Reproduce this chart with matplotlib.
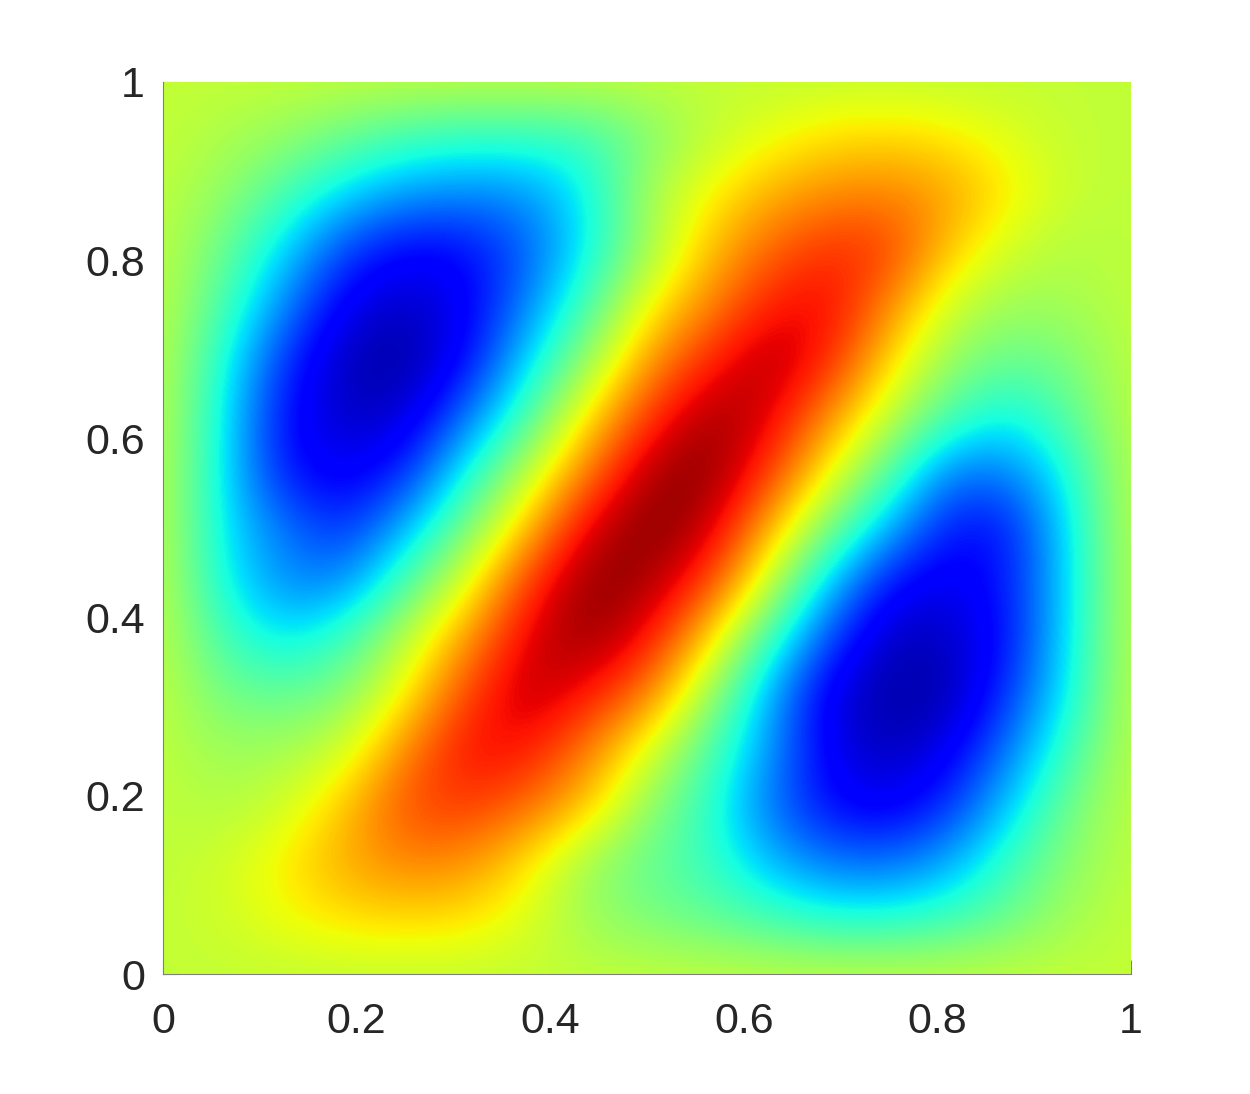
import numpy as np
import matplotlib
matplotlib.use('Agg')
import matplotlib.pyplot as plt

tick_vals = [0, 0.2, 0.4, 0.6, 0.8, 1]
tick_labels = ['0', '0.2', '0.4', '0.6', '0.8', '1']

# field, rows from y=1 down to y=0, steps of 1/16
row00 = [.585, .585, .585, .585, .585, .585, .585, .585, .585, .585, .585, .585, .585, .585, .585, .585, .585]
row01 = [.585, .56, .53, .48, .43, .41, .41, .42, .50, .58, .63, .67, .68, .66, .62, .585, .585]
row02 = [.58, .53, .44, .34, .28, .26, .27, .36, .55, .645, .72, .76, .77, .74, .66, .59, .58]
row03 = [.58, .48, .34, .19, .12, .13, .21, .36, .54, .70, .80, .86, .85, .70, .60, .565, .58]
row04 = [.58, .44, .26, .10, .06, .10, .25, .43, .64, .76, .88, .91, .77, .60, .54, .55, .58]
row05 = [.58, .385, .17, .05, .025, .12, .33, .53, .74, .87, .96, .88, .68, .53, .47, .50, .58]
row06 = [.58, .36, .13, .06, .07, .23, .43, .66, .85, .97, .93, .76, .59, .44, .36, .46, .58]
row07 = [.58, .35, .14, .10, .155, .37, .57, .78, .96, .995, .86, .65, .456, .24, .25, .385, .58]
row08 = [.58, .35, .24, .16, .30, .49, .70, .92, 1.0, .95, .73, .50, .30, .14, .14, .36, .58]
row09 = [.58, .37, .26, .26, .44, .62, .85, .99, .97, .85, .60, .32, .13, .09, .15, .35, .58]
row10 = [.58, .43, .35, .42, .58, .745, .92, .98, .90, .69, .425, .19, .05, .06, .14, .36, .58]
row11 = [.58, .49, .47, .51, .65, .84, .95, .89, .78, .55, .30, .09, .03, .04, .18, .375, .58]
row12 = [.58, .54, .55, .60, .77, .90, .89, .78, .62, .45, .28, .10, .05, .10, .25, .43, .58]
row13 = [.58, .565, .60, .70, .83, .85, .80, .70, .53, .41, .24, .13, .10, .17, .33, .49, .58]
row14 = [.58, .60, .66, .73, .77, .76, .67, .54, .47, .42, .31, .24, .23, .29, .42, .52, .58]
row15 = [.585, .60, .64, .67, .68, .67, .62, .54, .50, .47, .43, .39, .39, .42, .48, .55, .585]
row16 = [.585, .585, .585, .585, .585, .585, .585, .585, .585, .585, .585, .585, .585, .585, .585, .585, .585]

field = np.array([row00, row01, row02, row03, row04, row05, row06, row07, row08,
                  row09, row10, row11, row12, row13, row14, row15, row16])

plt.rcParams['font.family'] = ['Liberation Sans', 'DejaVu Sans']

W, H = 1250, 1094
fig = plt.figure(figsize=(W/100, H/100), dpi=100)
ax = fig.add_axes([163/W, 1-974/H, (1131-163)/W, (974-82)/H])

half = 1/32
ax.imshow(field, cmap='jet', vmin=0, vmax=1, extent=[-half, 1+half, -half, 1+half],
          origin='upper', interpolation='bicubic', aspect='auto', zorder=2)
ax.set_xlim(0, 1)
ax.set_ylim(0, 1)

ax.spines['top'].set_visible(False)
ax.spines['right'].set_visible(False)
for s in ['left', 'bottom']:
    ax.spines[s].set_color('#808080')
    ax.spines[s].set_linewidth(0.8)

# ticks sit under the image, only the ends at the corners stick out
ax.set_axisbelow(True)
ax.set_xticks(tick_vals)
ax.set_xticklabels(tick_labels)
ax.set_yticks(tick_vals)
ax.set_yticklabels(tick_labels)
ax.tick_params(direction='in', length=10, width=0.8, color='#808080', labelcolor='#262626',
               labelsize=31)
ax.tick_params(axis='x', pad=20)
ax.tick_params(axis='y', pad=13)

fig.savefig('out.png', dpi=100, facecolor='white')
